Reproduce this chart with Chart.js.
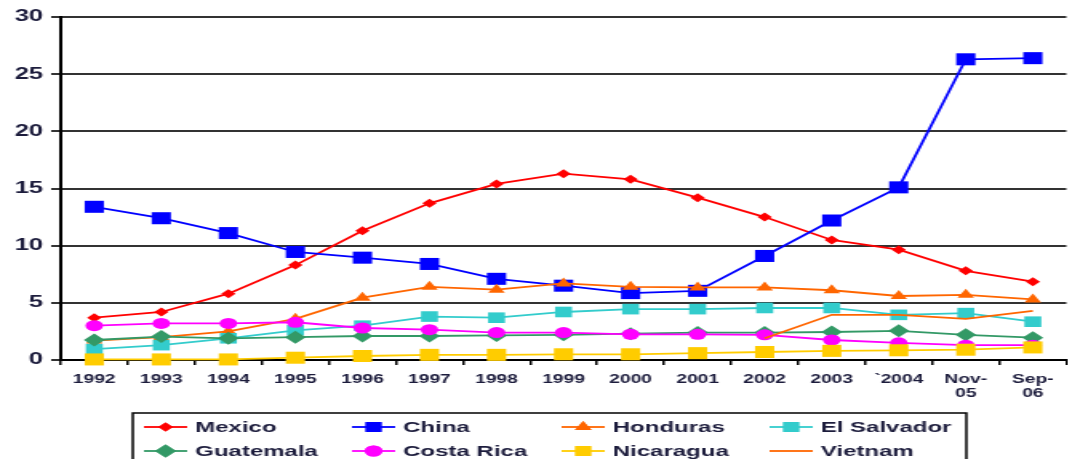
<!DOCTYPE html>
<html>
<head>
  <script src="https://cdn.jsdelivr.net/npm/chart.js"></script>
  <style>
    html, body { margin: 0; padding: 0; background: #fff; overflow: hidden; width: 1068px; height: 459px; }
    #chart { transform: scaleX(1.6); transform-origin: 0 0; display: block; }
  </style>
</head>
<body>
  <canvas id="chart" width="675" height="459"></canvas>
  <script>
    // categories (x axis)
    const years = ['1992', '1993', '1994', '1995', '1996', '1997', '1998', '1999', '2000', '2001', '2002', '2003', '`2004', ['Nov-', '05'], ['Sep-', '06']];
    const yTicks = [0, 5, 10, 15, 20, 25, 30];

    // series values
    const mexico     = [3.7, 4.2, 5.8, 8.3, 11.3, 13.7, 15.4, 16.3, 15.8, 14.2, 12.5, 10.5, 9.65, 7.8, 6.85];
    const china      = [13.4, 12.4, 11.1, 9.45, 8.95, 8.4, 7.1, 6.5, 5.85, 6.05, 9.1, 12.2, 15.1, 26.3, 26.4];
    const honduras   = [1.7, 2.0, 2.5, 3.6, 5.45, 6.4, 6.15, 6.7, 6.4, 6.35, 6.35, 6.1, 5.6, 5.7, 5.3];
    const elSalvador = [0.95, 1.3, 1.9, 2.6, 3.0, 3.8, 3.7, 4.2, 4.45, 4.45, 4.55, 4.55, 3.95, 4.1, 3.35];
    const guatemala  = [1.75, 2.05, 1.9, 2.0, 2.1, 2.1, 2.15, 2.2, 2.3, 2.4, 2.4, 2.45, 2.55, 2.2, 1.95];
    const costaRica  = [3.0, 3.2, 3.2, 3.3, 2.8, 2.65, 2.4, 2.4, 2.25, 2.25, 2.2, 1.75, 1.5, 1.3, 1.3];
    const nicaragua  = [0.05, 0.05, 0.05, 0.2, 0.35, 0.45, 0.45, 0.5, 0.5, 0.6, 0.7, 0.8, 0.85, 0.9, 1.1];
    const vietnam    = [null, null, null, null, null, null, null, null, null, null, 1.9, 3.95, 3.95, 3.6, 4.3];

    const names = ['Mexico', 'China', 'Honduras', 'El Salvador', 'Guatemala', 'Costa Rica', 'Nicaragua', 'Vietnam'];
    const series = [mexico, china, honduras, elSalvador, guatemala, costaRica, nicaragua, vietnam];
    const colors = ['#FF0000', '#0000FF', '#FF6600', '#33CCCC', '#339966', '#FF00FF', '#FFCC00', '#FF6600'];
    const shapes = ['rectRot', 'rect', 'triangle', 'rect', 'rectRot', 'circle', 'rect', 'circle'];
    const radii = [4.5, 8.5, 6, 7.5, 6.5, 5.5, 8.5, 0];

    const datasets = series.map((data, i) => ({
      label: names[i],
      data: data,
      borderColor: colors[i],
      backgroundColor: colors[i],
      borderWidth: 1.8,
      pointStyle: shapes[i],
      pointRadius: radii[i],
      pointBorderWidth: 0,
      tension: 0,
      clip: false,
      order: series.length - i
    }));

    const textColor = '#1c1c3c';

    // legend in a box, 4 columns like the original
    const boxLegend = {
      id: 'boxLegend',
      afterDraw(chart) {
        const ctx = chart.ctx;
        const colMark = [90, 220, 351, 481];
        const markW = 27;
        const rowY = [427, 451];
        ctx.save();
        ctx.strokeStyle = '#000';
        ctx.lineWidth = 1.5;
        ctx.strokeRect(83, 413, 521, 70);
        ctx.font = 'bold 15px "Liberation Sans", Arial, sans-serif';
        ctx.textBaseline = 'middle';
        ctx.fillStyle = textColor;
        names.forEach((name, i) => {
          const x = colMark[i % 4];
          const y = rowY[Math.floor(i / 4)];
          ctx.strokeStyle = colors[i];
          ctx.lineWidth = 1.8;
          ctx.beginPath();
          ctx.moveTo(x, y);
          ctx.lineTo(x + markW, y);
          ctx.stroke();
          if (radii[i] > 0 && Chart.helpers && Chart.helpers.drawPoint) {
            ctx.fillStyle = colors[i];
            Chart.helpers.drawPoint(ctx, {
              pointStyle: shapes[i],
              radius: Math.min(radii[i], 7),
              borderWidth: 0,
              rotation: 0
            }, x + markW / 2, y);
            ctx.fill();
          }
          ctx.fillStyle = textColor;
          ctx.fillText(name, x + markW + 5, y + 1);
        });
        ctx.restore();
      }
    };

    new Chart(document.getElementById('chart'), {
      type: 'line',
      data: { labels: years, datasets: datasets },
      plugins: [boxLegend],
      options: {
        responsive: false,
        animation: false,
        devicePixelRatio: 1,
        layout: { padding: { top: 17, left: 0, right: 3, bottom: 59 } },
        plugins: {
          legend: { display: false },
          tooltip: { enabled: false }
        },
        scales: {
          x: {
            type: 'category',
            offset: true,
            afterFit(scale) { scale.height = 40; },
            grid: {
              offset: true,
              drawOnChartArea: false,
              drawTicks: true,
              tickLength: 5,
              color: '#000',
              lineWidth: 1.5
            },
            border: { display: true, color: '#000', width: 2 },
            ticks: {
              color: textColor,
              font: { family: '"Liberation Sans", Arial, sans-serif', size: 12, weight: 'bold', lineHeight: 1.2 },
              padding: 7,
              maxRotation: 0,
              autoSkip: false
            }
          },
          y: {
            min: 0,
            max: 30,
            afterFit(scale) { scale.width = 38; },
            afterBuildTicks(scale) { scale.ticks = yTicks.map(v => ({ value: v })); },
            grid: {
              color: '#333',
              lineWidth: 2,
              drawTicks: true,
              tickLength: 6
            },
            border: { display: true, color: '#000', width: 2 },
            ticks: {
              color: textColor,
              font: { family: '"Liberation Sans", Arial, sans-serif', size: 16, weight: 'bold' },
              padding: 5
            }
          }
        }
      }
    });
  </script>
</body>
</html>
